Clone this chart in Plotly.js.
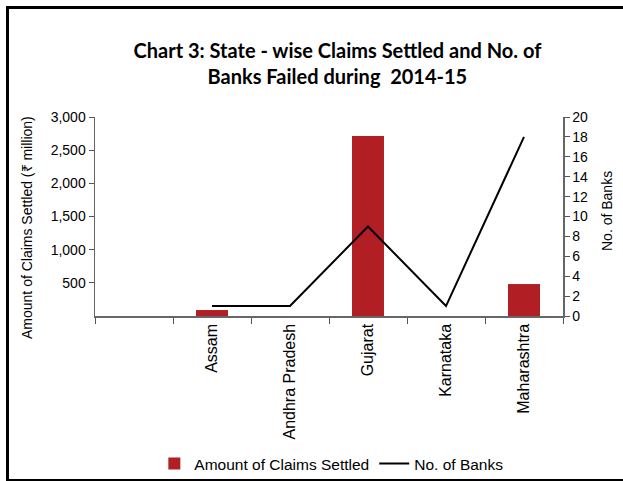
<!DOCTYPE html>
<html>
<head>
<meta charset="utf-8">
<script src="https://cdn.plot.ly/plotly-3.0.1.min.js"></script>
<style>
html,body{margin:0;padding:0;background:#fff;}
#wrap{position:relative;width:623px;height:481px;overflow:hidden;}
#chart{width:623px;height:481px;}
#frame{position:absolute;left:6px;top:6px;width:640px;height:470px;border:3px solid #000;pointer-events:none;}
</style>
</head>
<body>
<div id="wrap"><div id="chart"></div><div id="frame"></div></div>
<script>
const categories = [" ", "Assam", "Andhra Pradesh", "Gujarat", "Karnataka", "Maharashtra"];
const claimsSettled = [null, 90, null, 2715, null, 482];
const noOfBanks = [null, 1, 1, 9, 1, 18];
const leftTicks = [500, 1000, 1500, 2000, 2500, 3000];
const leftTickText = ["500", "1,000", "1,500", "2,000", "2,500", "3,000"];
const rightTicks = [0, 2, 4, 6, 8, 10, 12, 14, 16, 18, 20];

const fontAx = {family: "Arial", size: 14, color: "#000"};
const fontX = {family: "Arial", size: 16, color: "#000"};
const fontLeg = {family: "Arial", size: 15.5, color: "#000"};

const data = [
  {type: "bar", x: categories, y: claimsSettled, name: "Amount of Claims Settled",
   marker: {color: "#B11F24"}, width: 0.41, yaxis: "y"},
  {type: "scatter", mode: "lines", x: categories, y: noOfBanks, name: "No. of Banks",
   line: {color: "#000", width: 2}, yaxis: "y2", connectgaps: false}
];

const layout = {
  width: 623, height: 481,
  margin: {l: 95, r: 60, t: 117, b: 165},
  paper_bgcolor: "#fff", plot_bgcolor: "#fff",
  showlegend: true,
  title: {text: "Chart 3: State - wise Claims Settled and No. of<br>Banks Failed during  2014-15",
          font: {family: "Lato", size: 20, color: "#000", weight: "bold"},
          x: 0.518, xref: "paper", xanchor: "center", y: 0.879, yanchor: "middle", yref: "container"},
  xaxis: {type: "category", categoryorder: "array", categoryarray: categories,
          tickson: "boundaries", ticks: "outside", ticklen: 6, tickcolor: "#555",
          showline: true, linecolor: "#666", linewidth: 1.5, tickangle: -90,
          tickfont: fontX, showgrid: false, zeroline: false, automargin: false},
  yaxis: {range: [0, 3000], tickvals: leftTicks, ticktext: leftTickText,
          ticks: "outside", ticklen: 5, tickcolor: "#555", showline: true, linecolor: "#666",
          linewidth: 1.5, showgrid: false, zeroline: false, tickfont: fontAx, automargin: false},
  yaxis2: {range: [0, 20], tickvals: rightTicks, overlaying: "y", side: "right",
           ticks: "outside", ticklen: 5, tickcolor: "#555", showline: true, linecolor: "#666",
           linewidth: 1.5, showgrid: false, zeroline: false, tickfont: fontAx, automargin: false},
  legend: {orientation: "h", x: 0.505, xanchor: "center", xref: "paper",
           y: 1 - 464 / 481, yanchor: "middle", yref: "container",
           font: fontLeg, bgcolor: "rgba(0,0,0,0)", itemwidth: 30},
  annotations: [
    {text: "Amount of Claims Settled (₹ million)", xref: "paper", yref: "paper",
     x: (27 - 95) / 468, y: (316 - 228) / 199, textangle: -90, showarrow: false,
     font: fontAx, xanchor: "center", yanchor: "middle"},
    {text: "No. of Banks", xref: "paper", yref: "paper",
     x: (607 - 95) / 468, y: (316 - 211) / 199, textangle: -90, showarrow: false,
     font: fontAx, xanchor: "center", yanchor: "middle"}
  ]
};

Plotly.newPlot("chart", data, layout, {displayModeBar: false, staticPlot: true});
</script>
</body>
</html>
